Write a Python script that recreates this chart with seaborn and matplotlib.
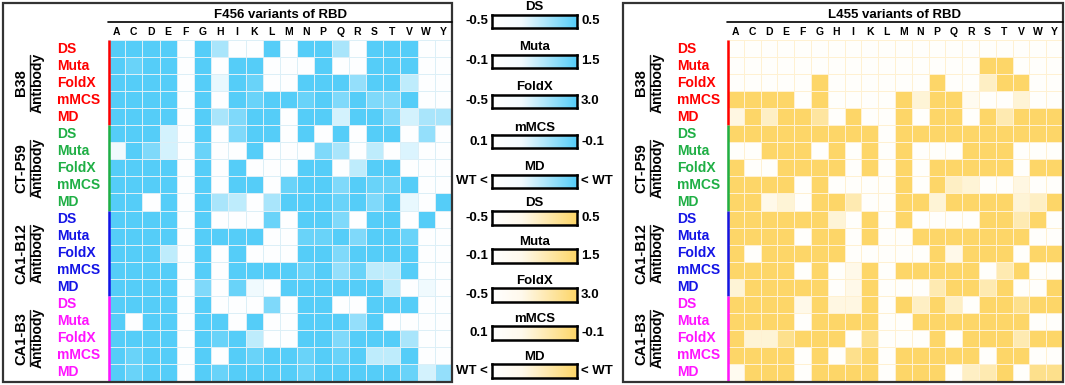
import numpy as np
import pandas as pd
import matplotlib
matplotlib.use('Agg')
import matplotlib.pyplot as plt
import seaborn as sns
from matplotlib.colors import LinearSegmentedColormap
from matplotlib.lines import Line2D
from matplotlib.patches import Rectangle

sns.set_theme(style='white')
plt.rcParams['font.family'] = ['Liberation Sans', 'DejaVu Sans']
plt.rcParams['font.weight'] = 'bold'

# ---------------- data ----------------
residues = list('ACDEFGHIKLMNPQRSTVWY')
methods = ['DS', 'Muta', 'FoldX', 'mMCS', 'MD']
antibodies = ['B38', 'CT-P59', 'CA1-B12', 'CA1-B3']
group_colors = ['#FF0000', '#1FAF45', '#1414E6', '#FF14FF']

# levels 0 (no effect) .. 4 (strong)
f456_b38 = [
    [4, 4, 4, 4, 0, 4, 2, 0, 0, 4, 0, 4, 4, 2, 0, 4, 4, 4, 0, 0],
    [4, 3.5, 4, 4, 0, 4, 0, 4, 4, 0, 0, 0, 4, 0, 0, 4, 4, 4, 0, 0],
    [4, 4, 4, 4, 0, 4, 0.5, 4, 3.5, 0, 0, 4, 4, 4, 2.5, 4, 4, 1.5, 0, 0],
    [4, 4, 4, 4, 0, 4, 0, 4, 3.5, 4, 4, 3.5, 4, 3, 4, 3, 3, 4, 0, 0],
    [4, 4, 4, 4, 0, 4, 2, 3, 4, 4, 0, 4, 4, 1, 4, 4, 3, 1, 2, 2],
]
f456_ctp59 = [
    [4, 4, 4, 1, 0, 4, 0, 3, 4, 4, 0, 4, 0, 4, 0, 4, 4, 0, 2.5, 0],
    [0.3, 4, 3, 1, 0, 3.5, 0, 0, 4, 0, 0, 0, 3, 2, 0, 1.5, 0, 0.8, 0, 0],
    [4, 4, 4, 4, 0, 4, 0, 4, 0, 0, 0, 4, 4, 0, 1.5, 4, 4, 0, 0, 0],
    [4, 4, 4, 4, 0, 4, 0, 4, 4, 0, 3.5, 4, 4, 3, 4, 3.5, 3.5, 4, 0, 0],
    [4, 4, 0, 4, 0, 4, 2, 1.5, 0, 2, 4, 4, 4, 3.5, 4, 3, 4, 0.5, 0, 4],
]
f456_cab12 = [
    [4, 4, 4, 4, 0, 4, 0, 0, 0, 3.5, 0, 4, 4, 3, 0, 4, 4, 0, 4, 0],
    [4, 4, 4, 4, 0, 4, 4, 4, 4, 0, 0, 3.5, 3.5, 4, 3, 4, 4, 3.5, 0, 0],
    [4, 4, 4, 1.5, 0, 4, 0, 4, 0, 0, 0, 4, 4, 3, 4, 4, 4, 4, 0, 0],
    [4, 4, 4, 4, 0, 4, 0, 4, 4, 4, 4, 3.5, 4, 2.5, 3.5, 1.5, 1.5, 4, 0, 0],
    [4, 4, 4, 4, 0, 3, 0, 3.5, 0.3, 0, 4, 4, 4, 4, 4, 4, 1.5, 0, 0.3, 0],
]
f456_cab3 = [
    [4, 4, 4, 4, 0, 4, 0, 0, 0, 3, 0, 4, 4, 0, 0, 4, 4, 4, 0, 0],
    [4, 0, 4, 4, 0, 4, 4, 0, 4, 0, 0, 4, 4, 4, 2.5, 4, 0, 0, 0, 0],
    [4, 4, 4, 4, 0, 4, 3.5, 4, 1.5, 0, 0, 4, 4, 3, 4, 4, 4, 2, 0, 0],
    [4, 3.5, 4, 4, 0, 4, 0, 4, 3.5, 4, 4, 3.5, 4, 3.5, 4, 1.5, 1.5, 4, 0, 0],
    [4, 3.5, 4, 4, 0, 4, 3.5, 4, 4, 4, 4, 3.5, 4, 4, 4, 4, 4, 3.5, 1, 2.5],
]

l455_b38 = [
    [0] * 20,
    [0, 0, 0, 0, 0, 0, 0, 0, 0, 0, 0, 0, 0, 0, 0, 4, 4, 0, 0, 0],
    [0, 0, 0, 0, 0, 4, 0, 0, 0, 0, 0, 0, 4, 0, 0, 1.5, 4, 4, 0, 0],
    [4, 4, 4, 4, 0, 4, 0, 0, 0, 0, 4, 1, 4, 4, 0.3, 0, 0, 1, 0, 0],
    [0.7, 4, 1.5, 4, 4, 2.5, 0, 4, 0, 0, 4, 0, 4, 4, 0, 4, 2, 4, 4, 4],
]
l455_ctp59 = [
    [4, 4, 4, 4, 4, 4, 4, 4, 4, 0, 4, 4, 4, 4, 4, 4, 4, 4, 4, 4],
    [0, 0, 4, 4, 4, 0, 4, 0, 4, 0, 4, 0, 0, 0, 4, 4, 4, 0, 0, 0],
    [4, 0, 0, 4, 4, 4, 4, 0, 4, 0, 4, 0, 4, 4, 4, 4, 4, 0, 4, 4],
    [4, 4, 4, 4, 0, 4, 0, 0, 0, 0, 4, 0, 4, 1.5, 1, 0, 0, 0.7, 0, 0],
    [4, 4, 0.5, 1, 0, 4, 4, 2, 0, 0, 4, 4, 1, 4, 4, 4, 4, 1, 1.5, 4],
]
l455_cab12 = [
    [4, 4, 4, 4, 4, 4, 1, 0, 4, 0, 4, 0, 0, 0, 0, 4, 4, 2, 4, 0],
    [4, 4, 4, 4, 0, 4, 4, 0, 4, 0, 0, 4, 4, 4, 4, 4, 4, 4, 0, 0],
    [4, 0, 4, 4, 4, 4, 4, 0, 0, 0, 0, 0, 4, 0.5, 4, 4, 4, 0, 4, 4],
    [4, 4, 4, 4, 0, 4, 0, 0.5, 4, 0, 4, 4, 4, 4, 4, 0, 2, 4, 0, 0],
    [1, 4, 4, 4, 4, 4, 0, 0.5, 4, 0, 0, 0, 2, 4, 4, 2, 4, 0, 0, 4],
]
l455_cab3 = [
    [4, 4, 4, 4, 0.5, 4, 0.7, 0.7, 4, 0, 4, 1.5, 4, 1.5, 0, 4, 4, 3, 4, 4],
    [4, 4, 4, 4, 0, 4, 4, 4, 4, 0, 0, 4, 4, 4, 4, 4, 4, 4, 0, 0],
    [4, 1, 1, 3, 4, 4, 4, 0, 3, 0, 0, 0, 4, 0, 4, 4, 4, 2, 4, 4],
    [4, 4, 4, 4, 0, 4, 0, 3, 4, 0, 4, 4, 4, 4, 4, 0, 4, 4, 0, 0],
    [0.3, 4, 4, 4, 0, 4, 4, 4, 4, 0, 4, 4, 4, 0, 1.5, 2, 4, 0, 3, 3],
]

cbar_titles = ['DS', 'Muta', 'FoldX', 'mMCS', 'MD']
cbar_left = ['-0.5', '-0.1', '-0.5', '0.1', 'WT <']
cbar_right = ['0.5', '1.5', '3.0', '-0.1', '< WT']

# ---------------- style ----------------
BLUE = '#55CDF8'
YELLOW = '#FDD668'
blue_cmap = LinearSegmentedColormap.from_list('b', ['#FDFEFF', BLUE])
yellow_cmap = LinearSegmentedColormap.from_list('y', ['#FFFEFB', YELLOW])
blue_bar = LinearSegmentedColormap.from_list('bb', [(0, '#FFFFFF'), (0.35, '#F2FAFE'), (1, BLUE)])
yellow_bar = LinearSegmentedColormap.from_list('yb', [(0, '#FFFFFF'), (0.35, '#FFF9EC'), (1, YELLOW)])

W, H = 1065, 385
fig = plt.figure(figsize=(W / 100, H / 100), dpi=100)
fig.patch.set_facecolor('white')


def rect(x0, y0, x1, y1):
    return [x0 / W, 1 - y1 / H, (x1 - x0) / W, (y1 - y0) / H]


def fx(x):
    return x / W


def fy(y):
    return 1 - y / H


def panel(groups, x0, x1, cmap, linecolor, title, label_x, name_x, ab_x, box_x0, box_x1):
    # outer box
    fig.patches.append(Rectangle((fx(box_x0), fy(382)), fx(box_x1) - fx(box_x0), fy(3) - fy(382),
                                 transform=fig.transFigure, fill=False, ec='#333333', lw=1.6))
    data = np.vstack(groups)
    idx = [f'{a} {m}' for a in antibodies for m in methods]
    df = pd.DataFrame(data, index=idx, columns=residues)
    ax = fig.add_axes(rect(x0, 40, x1, 381))
    sns.heatmap(df, ax=ax, cmap=cmap, vmin=0, vmax=4, cbar=False,
                linewidths=0.45, linecolor=linecolor,
                xticklabels=residues, yticklabels=methods * 4)
    ax.xaxis.tick_top()
    ax.tick_params(axis='x', length=0, pad=2, labelsize=7.5)
    pad_pt = (x0 - label_x) * 0.72
    ax.tick_params(axis='y', length=0, pad=pad_pt, labelsize=10)
    for lab in ax.get_xticklabels():
        lab.set_fontweight('bold')
        lab.set_rotation(0)
        lab.set_color('black')
    for i, lab in enumerate(ax.get_yticklabels()):
        lab.set_color(group_colors[i // 5])
        lab.set_ha('left')
        lab.set_rotation(0)
        lab.set_fontweight('bold')
    for g in range(4):
        ax.vlines(0.04, g * 5, g * 5 + 5, color=group_colors[g], lw=1.8, clip_on=False)
    # title and rule
    fig.text(fx((x0 + x1) / 2), fy(15), title, ha='center', va='center',
             fontsize=9.5, fontweight='bold', color='black')
    fig.lines.append(Line2D([fx(x0), fx(x1)], [fy(22), fy(22)], transform=fig.transFigure,
                            color='black', lw=1.2))
    # group labels
    for g, name in enumerate(antibodies):
        yc = 40 + (g * 5 + 2.5) * (381 - 40) / 20
        fig.text(fx(name_x), fy(yc), name, rotation=90, ha='center', va='center',
                 fontsize=10.5, fontweight='bold', color='black')
        fig.text(fx(ab_x), fy(yc), 'Antibody', rotation=90, ha='center', va='center',
                 fontsize=10, fontweight='bold', color='black')
        lx = (name_x + ab_x) / 2 + 0.5
        fig.lines.append(Line2D([fx(lx), fx(lx)], [fy(yc - 28), fy(yc + 28)],
                                transform=fig.transFigure, color='#222222', lw=1.0))


panel([f456_b38, f456_ctp59, f456_cab12, f456_cab3], 108, 452, blue_cmap, '#DCEFF7',
      'F456 variants of RBD', 57, 21, 38, 3, 452)
panel([l455_b38, l455_ctp59, l455_cab12, l455_cab3], 727, 1063, yellow_cmap, '#FFF1D2',
      'L455 variants of RBD', 677, 641, 658, 623, 1063)

# ---------------- colour bars ----------------
grad = np.linspace(0, 1, 256).reshape(1, -1)
blue_tops = [15, 55, 95, 135, 175]
yellow_tops = [211, 249, 288, 326, 364]
for tops, cmap, hgt in [(blue_tops, blue_bar, 13), (yellow_tops, yellow_bar, 14)]:
    for i, top in enumerate(tops):
        cax = fig.add_axes(rect(492, top, 577, top + hgt))
        cax.imshow(grad, aspect='auto', cmap=cmap, interpolation='bilinear')
        cax.set_xticks([])
        cax.set_yticks([])
        for sp in cax.spines.values():
            sp.set_visible(True)
            sp.set_color('black')
            sp.set_linewidth(1.8)
        fig.text(fx(534.5), fy(top - 1.5), cbar_titles[i], ha='center', va='bottom',
                 fontsize=9.5, fontweight='bold', color='black')
        fig.text(fx(488), fy(top + hgt / 2), cbar_left[i], ha='right', va='center',
                 fontsize=9.5, fontweight='bold', color='black')
        fig.text(fx(581), fy(top + hgt / 2), cbar_right[i], ha='left', va='center',
                 fontsize=9.5, fontweight='bold', color='black')

fig.savefig('out.png', dpi=100, facecolor='white')
